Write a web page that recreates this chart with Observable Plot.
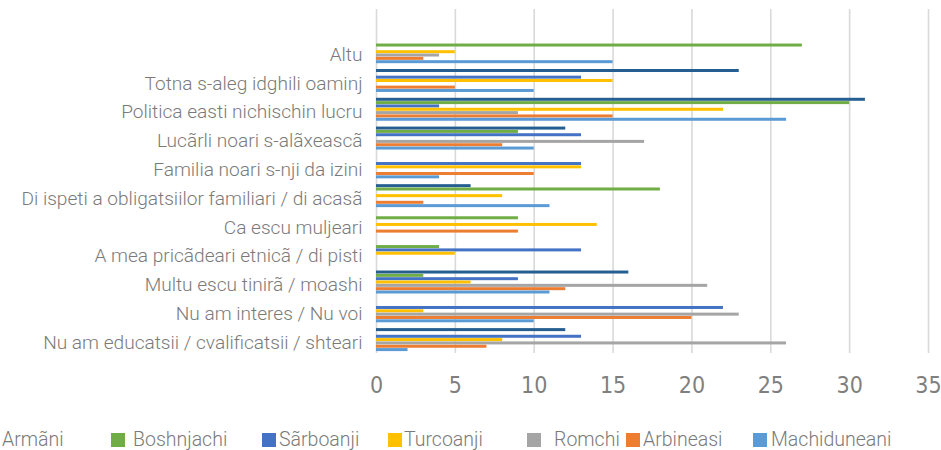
<!DOCTYPE html>
<html><head><meta charset="utf-8">
<script src="https://cdn.jsdelivr.net/npm/d3@7"></script>
<script src="https://cdn.jsdelivr.net/npm/@observablehq/plot@0.6"></script>
<style>
body{margin:0;background:#fff;}
#wrap{position:relative;width:941px;height:450px;overflow:hidden;background:#fff;}
#wrap svg{display:block;}
.lg{position:absolute;font-family:Roboto,sans-serif;font-weight:300;font-size:19.5px;color:#7a7a7a;line-height:1;white-space:nowrap;}
.sw{position:absolute;width:14px;height:14px;}
</style></head><body><div id="wrap"></div>
<script>
const categories = [
  "Altu",
  "Totna s-aleg idghili oaminj",
  "Politica easti nichischin lucru",
  "Lucãrli noari s-alãxeascã",
  "Familia noari s-nji da izini",
  "Di ispeti a obligatsiilor familiari / di acasã",
  "Ca escu muljeari",
  "A mea pricãdeari etnicã / di pisti",
  "Multu escu tinirã / moashi",
  "Nu am interes / Nu voi",
  "Nu am educatsii / cvalificatsii / shteari"
];
const seriesNames = ["Armãni","Boshnjachi","Sãrboanji","Turcoanji","Romchi","Arbineasi","Machiduneani"];
const armani       = [0, 23, 31, 12, 0, 6, 0, 0, 16, 0, 12];
const boshnjachi   = [27, 0, 30, 9, 0, 18, 9, 4, 3, 0, 0];
const sarboanji    = [0, 13, 4, 13, 13, 0, 0, 13, 9, 22, 13];
const turcoanji    = [5, 15, 22, 0, 13, 8, 14, 5, 6, 3, 8];
const romchi       = [4, 0, 9, 17, 0, 0, 0, 0, 21, 23, 26];
const arbineasi    = [3, 5, 15, 8, 10, 3, 9, 0, 12, 20, 7];
const machiduneani = [15, 10, 26, 10, 4, 11, 0, 0, 11, 10, 2];
const xTicks = [0, 5, 10, 15, 20, 25, 30, 35];

const seriesValues = [armani, boshnjachi, sarboanji, turcoanji, romchi, arbineasi, machiduneani];
const colors = ["#255e91","#70ad47","#4472c4","#ffc000","#a5a5a5","#ed7d31","#5b9bd5"];

const rows = [];
seriesNames.forEach((s, i) => categories.forEach((c, j) => rows.push({series: s, category: c, value: seriesValues[i][j]})));

const W = 941, H = 420;
const yRange = [37.3, 354];
const bw = (yRange[1] - yRange[0]) / categories.length;
const barH = 3.0, step = 3.33, off = 2.9;

const chart = Plot.plot({
  width: W, height: H,
  marginLeft: 376, marginRight: 13, marginTop: 9, marginBottom: 67,
  style: {background: "transparent", color: "#7f7f7f"},
  x: {domain: [0, 35], axis: null, label: null},
  y: {domain: categories, range: yRange, padding: 0, round: false, axis: null, label: null},
  marks: [
    Plot.gridX(xTicks, {stroke: "#d9d9d9", strokeOpacity: 1, strokeWidth: 1.6}),
    ...seriesNames.map((s, i) => Plot.barX(rows.filter(d => d.series === s && d.value > 0), {
      x: "value", y: "category", fill: colors[i],
      insetTop: off + step * i, insetBottom: bw - (off + step * i + barH)
    })),
    Plot.axisX(xTicks, {tickSize: 0, tickPadding: 23, fontSize: 23, fontFamily: "'Liberation Sans Narrow','DejaVu Sans Condensed',sans-serif", color: "#7f7f7f", label: null}),
    Plot.axisY({tickSize: 0, tickPadding: 14, fontSize: 19.1, fontFamily: "Roboto, sans-serif", fontWeight: 300, color: "#7a7a7a", dy: 2.5, label: null})
  ]
});
const wrap = document.getElementById("wrap");
wrap.appendChild(chart);

// legend (layout positions only)
const legendLayout = [[-21, 2], [111, 133], [262, 279], [388, 404], [527, 554], [626, 643], [753, 771]];
seriesNames.forEach((s, i) => {
  const sw = document.createElement("div");
  sw.className = "sw";
  sw.style.left = legendLayout[i][0] + "px";
  sw.style.top = "433px";
  sw.style.background = colors[i];
  wrap.appendChild(sw);
  const t = document.createElement("div");
  t.className = "lg";
  t.style.left = legendLayout[i][1] + "px";
  t.style.top = "430px";
  t.textContent = s;
  wrap.appendChild(t);
});
</script></body></html>
